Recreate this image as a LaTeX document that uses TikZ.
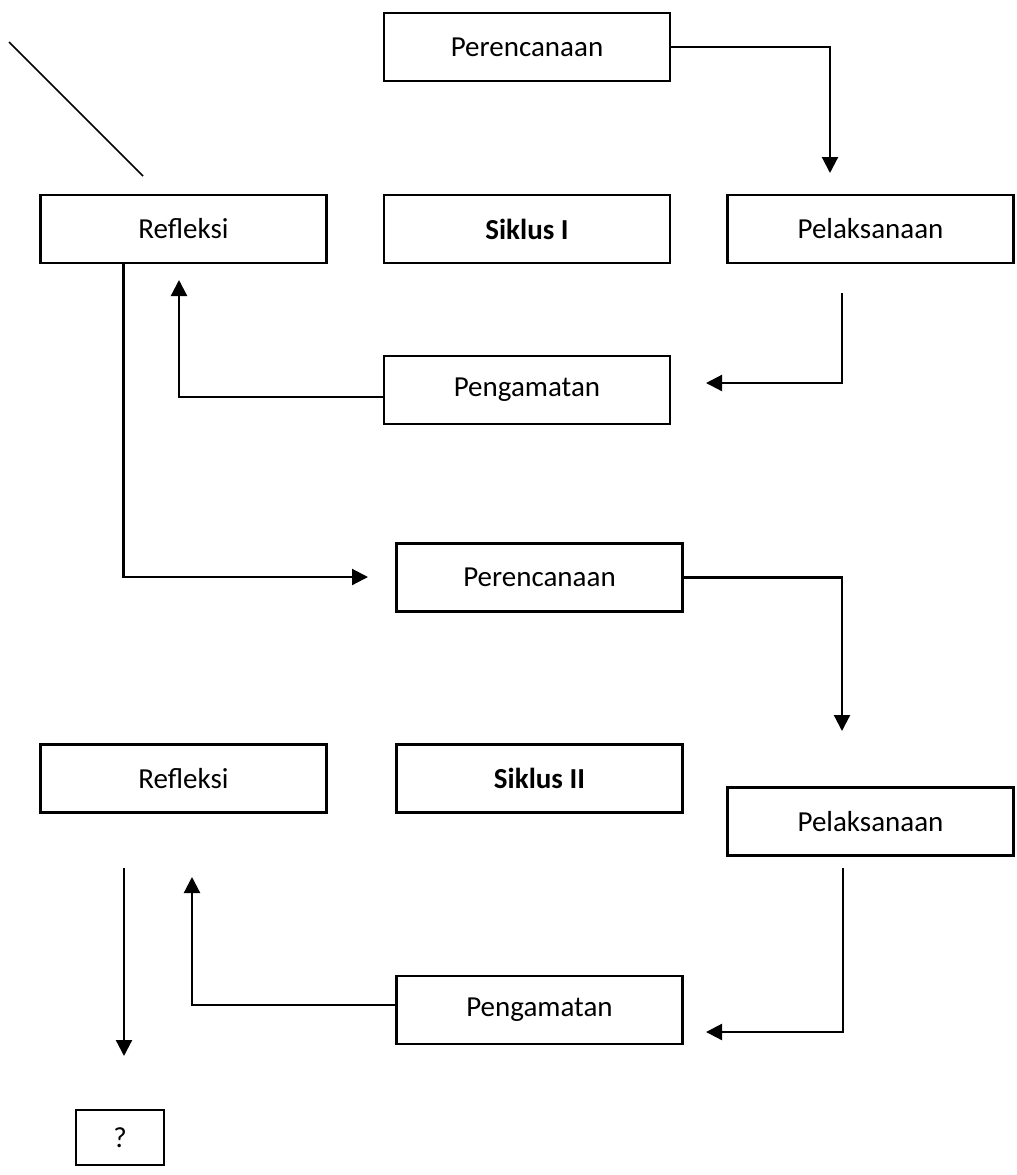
\documentclass[tikz,border=0pt]{standalone}
\usepackage{fontspec}
\setmainfont{Carlito}
\usepackage{tikz}
\usetikzlibrary{positioning,calc,arrows.meta}

\tikzset{
    stage/.style={draw, line width=1.1pt, minimum width=143pt, minimum height=34pt, inner sep=0pt, font=\fontsize{14.5}{17}\selectfont},
    flow/.style={line width=1.1pt, -{Triangle[length=8pt,width=8pt]}}
}

\begin{document}
\begin{tikzpicture}[x=0.5pt, y=-0.5pt]
    \useasboundingbox (0,0) rectangle (1017,1175);

    % Siklus I
    \node[stage] (per1) at (527,47) {Perencanaan};
    \node[stage] (ref1) at (183.5,229) {Refleksi};
    \node[stage] (sik1) at (527,229) {\textbf{Siklus I}};
    \node[stage] (pel1) at (870.5,229) {Pelaksanaan};
    \node[stage] (pen1) at (527,390) {Pengamatan};

    % Siklus II
    \node[stage] (per2) at (539.5,577.5) {Perencanaan};
    \node[stage] (ref2) at (183.5,778.5) {Refleksi};
    \node[stage] (sik2) at (539.5,778.5) {\textbf{Siklus II}};
    \node[stage] (pel2) at (870.5,821.5) {Pelaksanaan};
    \node[stage] (pen2) at (539.5,1010) {Pengamatan};

    % Akhir
    \node[stage, minimum width=44pt, minimum height=27.5pt] (akhir) at (120,1137.5) {?};

    % Free ends
    \coordinate (d1) at (9,42);
    \coordinate (d2) at (143,176);
    \coordinate (t1) at (830,173);
    \coordinate (s2) at (842,293);
    \coordinate (t2) at (706,383);
    \coordinate (t3) at (179,280);
    \coordinate (t4) at (368,577);
    \coordinate (t5) at (842,731);
    \coordinate (s6) at (843,868);
    \coordinate (t6) at (706,1032);
    \coordinate (t7) at (192,877);
    \coordinate (s8) at (124,868);
    \coordinate (t8) at (124,1056);

    % Diagonal stroke
    \draw[line width=0.8pt] (d1) -- (d2);

    % Cycle I arrows
    \draw[flow] (per1.east) -| (t1);
    \draw[flow] (s2) |- (t2);
    \draw[flow] ([yshift=-3.5pt]pen1.west) -| (t3);
    \draw[flow] ([xshift=-30pt]ref1.south) |- (t4);

    % Cycle II arrows
    \draw[flow] (per2.east) -| (t5);
    \draw[flow] (s6) |- (t6);
    \draw[flow] ([yshift=2.5pt]pen2.west) -| (t7);
    \draw[flow] (s8) -- (t8);
\end{tikzpicture}
\end{document}
